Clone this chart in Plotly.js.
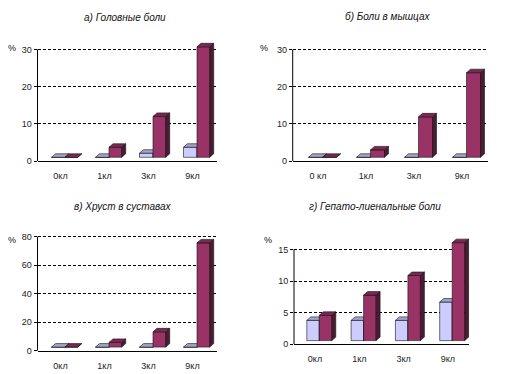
<!DOCTYPE html>
<html>
<head>
<meta charset="utf-8">
<script src="https://cdn.plot.ly/plotly-3.0.1.min.js"></script>
<style>html,body{margin:0;padding:0;background:#fff;}#chart{width:522px;height:374px;}</style>
</head>
<body>
<div id="chart"></div>
<script>
// ---- data ----
const titles = ['а) Головные боли', 'б) Боли в мышцах', 'в) Хруст в суставах', 'г) Гепато-лиенальные боли'];
const categoriesA = ['0кл', '1кл', '3кл', '9кл'];
const categoriesB = ['0 кл', '1кл', '3кл', '9кл'];
const categoriesC = ['0кл', '1кл', '3кл', '9кл'];
const categoriesD = ['0кл', '1кл', '3кл', '9кл'];
const headacheLight = [0, 0, 1.1, 2.7];
const headacheDark  = [0, 2.7, 11.0, 29.7];
const muscleLight   = [0, 0, 0, 0];
const muscleDark    = [0, 2.0, 10.9, 22.8];
const jointLight    = [0, 0, 0, 0];
const jointDark     = [0, 3.3, 10.7, 73];
const hepatoLight   = [3.2, 3.2, 3.2, 6.1];
const hepatoDark    = [4.0, 7.2, 10.3, 15.5];
const yTicksA = [0, 10, 20, 30];
const yTicksB = [0, 10, 20, 30];
const yTicksC = [0, 20, 40, 60, 80];
const yTicksD = [0, 5, 10, 15];
const unitLabel = '%';

// ---- layout geometry (pixels) ----
const W = 522, H = 374;
const panels = [
  {cats: categoriesA, light: headacheLight, dark: headacheDark, title: titles[0], yticks: yTicksA,
   xl: 37.5, xr: 217, y0: 161, scale: 3.72, ymax: 32.5, tick0: 60.5, step: 44, bd: 4.5, wL: 13.5, wD: 12.7,
   titleX: 125, titleY: 18, pctX: 12, pctY: 48},
  {cats: categoriesB, light: muscleLight, dark: muscleDark, title: titles[1], yticks: yTicksB,
   xl: 292.7, xr: 487.7, y0: 161, scale: 3.71, ymax: 32.5, tick0: 318, step: 48, bd: 4.5, wL: 14, wD: 14,
   titleX: 387, titleY: 17, pctX: 264, pctY: 48},
  {cats: categoriesC, light: jointLight, dark: jointDark, title: titles[2], yticks: yTicksC,
   xl: 37.5, xr: 216.7, y0: 350.8, scale: 1.427, ymax: 84, tick0: 60.5, step: 44, bd: 4.5, wL: 13.5, wD: 12.7,
   titleX: 123, titleY: 206, pctX: 12, pctY: 240},
  {cats: categoriesD, light: hepatoLight, dark: hepatoDark, title: titles[3], yticks: yTicksD,
   xl: 294, xr: 469.3, y0: 344.3, scale: 6.32, ymax: 17, tick0: 315, step: 44.3, bd: 4.3, wL: 12.5, wD: 12.5,
   titleX: 375, titleY: 206, pctX: 268, pctY: 240}
];
const depthX = 4, depthY = 3.5, floorLift = 3.7;
const colors = {
  light: {front: '#ccccff', top: '#a3a3cc', side: '#8080a8'},
  dark:  {front: '#993366', top: '#7a2952', side: '#4d1a33'}
};
const edge = {color: '#111', width: 0.6};
const tickFont = {family: 'Liberation Sans, Arial, sans-serif', size: 9, color: '#222'};

const traces = [];
const layout = {
  width: W, height: H, margin: {l: 0, r: 0, t: 0, b: 0},
  paper_bgcolor: '#fff', plot_bgcolor: 'rgba(0,0,0,0)',
  showlegend: false, barmode: 'overlay', annotations: [], shapes: []
};

function axId(n) { return n === 1 ? '' : String(n); }

panels.forEach((p, k) => {
  const nb = 2 * k + 1, no = 2 * k + 2;
  const xRange = [(p.xl - p.tick0) / p.step, (p.xr - p.tick0) / p.step];
  const yTopPx = p.y0 - p.ymax * p.scale;
  const xDom = [p.xl / W, p.xr / W];
  const yDom = [1 - p.y0 / H, 1 - yTopPx / H];
  const dxu = depthX / p.step, dyu = depthY / p.scale, base = floorLift / p.scale;
  const xPos = p.cats.map((c, i) => i);

  layout['xaxis' + axId(nb)] = {
    domain: xDom, range: xRange, anchor: 'y' + axId(nb), type: 'linear',
    tickvals: xPos, ticktext: p.cats, ticks: 'outside', ticklen: 6, tickcolor: 'rgba(0,0,0,0)',
    showgrid: false, zeroline: false, showline: true, linecolor: '#000', linewidth: 1,
    tickfont: tickFont, fixedrange: true
  };
  layout['yaxis' + axId(nb)] = {
    domain: yDom, range: [0, p.ymax], anchor: 'x' + axId(nb),
    tickvals: p.yticks, ticks: 'outside', ticklen: 3, tickcolor: '#000', tickwidth: 1,
    showgrid: true, gridcolor: '#000', gridwidth: 1, griddash: '3px,2px',
    zeroline: false, showline: false,
    tickfont: tickFont, fixedrange: true
  };
  layout['xaxis' + axId(no)] = {
    overlaying: 'x' + axId(nb), anchor: 'y' + axId(no), range: xRange, type: 'linear', visible: false, fixedrange: true
  };
  layout['yaxis' + axId(no)] = {
    overlaying: 'y' + axId(nb), anchor: 'x' + axId(no), range: [0, p.ymax], visible: false, fixedrange: true
  };
  // value-axis line runs only up to the top tick, as in the original
  layout.shapes.push({
    type: 'line', xref: 'x' + axId(nb) + ' domain', yref: 'y' + axId(nb),
    x0: 0, x1: 0, y0: 0, y1: Math.max.apply(null, p.yticks),
    line: {color: '#000', width: 1}, layer: 'above'
  });

  [['light', nb, (p.bd - p.wL) / p.step, p.wL / p.step], ['dark', no, p.bd / p.step, p.wD / p.step]].forEach(([s, n, off, w]) => {
    const vals = p[s];
    const xa = 'x' + axId(n), ya = 'y' + axId(n);
    // front face: real bars
    traces.push({
      type: 'bar', x: xPos, y: vals, base: vals.map(() => base), offset: off, width: w,
      marker: {color: colors[s].front, line: edge}, xaxis: xa, yaxis: ya, hoverinfo: 'y'
    });
    // top and side faces derived from the same values
    const tx = [], ty = [], sx = [], sy = [];
    vals.forEach((v, i) => {
      const x0 = i + off, x1 = x0 + w, yb = base, yt = base + v;
      tx.push(x0, x1, x1 + dxu, x0 + dxu, x0, null);
      ty.push(yt, yt, yt + dyu, yt + dyu, yt, null);
      sx.push(x1, x1 + dxu, x1 + dxu, x1, x1, null);
      sy.push(yb, yb + dyu, yt + dyu, yt, yb, null);
    });
    traces.push({type: 'scatter', mode: 'lines', x: sx, y: sy, fill: 'toself', fillcolor: colors[s].side,
      line: edge, xaxis: xa, yaxis: ya, hoverinfo: 'skip'});
    traces.push({type: 'scatter', mode: 'lines', x: tx, y: ty, fill: 'toself', fillcolor: colors[s].top,
      line: edge, xaxis: xa, yaxis: ya, hoverinfo: 'skip'});
  });

  layout.annotations.push({
    text: p.title, xref: 'paper', yref: 'paper', x: p.titleX / W, y: 1 - p.titleY / H,
    xanchor: 'center', yanchor: 'middle', showarrow: false,
    font: {family: 'Liberation Sans, Arial, sans-serif', size: 10, style: 'italic', color: '#111'}
  });
  layout.annotations.push({
    text: unitLabel, xref: 'paper', yref: 'paper', x: p.pctX / W, y: 1 - p.pctY / H,
    xanchor: 'center', yanchor: 'middle', showarrow: false,
    font: {family: 'Liberation Sans, Arial, sans-serif', size: 9, color: '#111'}
  });
});

Plotly.newPlot('chart', traces, layout, {staticPlot: true, displayModeBar: false});
</script>
</body>
</html>
